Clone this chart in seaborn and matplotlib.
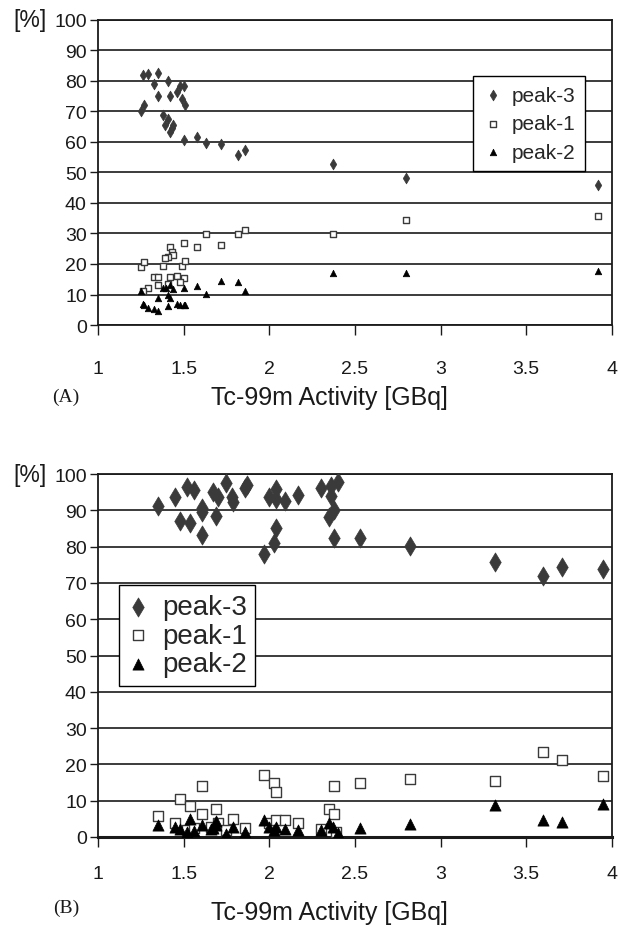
import matplotlib
matplotlib.use('Agg')
import matplotlib.pyplot as plt
import seaborn as sns
import pandas as pd

# panel A
a_p3_x = [1.26, 1.29, 1.35, 1.33, 1.41, 1.48, 1.50, 1.35, 1.42, 1.46, 1.49, 1.51, 1.25, 1.27, 1.38,
          1.41, 1.39, 1.44, 1.43, 1.42, 1.50, 1.58, 1.63, 1.72, 1.82, 1.86, 2.37, 2.80, 3.92]
a_p3_y = [81.8, 82.3, 82.5, 79.0, 80.0, 78.5, 78.2, 75.2, 75.2, 76.5, 74.2, 72.0, 70.0, 72.0, 68.9,
          67.5, 65.7, 65.5, 64.5, 63.3, 60.8, 61.5, 59.7, 59.2, 55.7, 57.5, 52.7, 48.2, 46.0]
a_p1_x = [1.25, 1.27, 1.63, 1.82, 1.86, 1.50, 1.58, 1.72, 1.42, 1.43, 1.44, 1.41, 1.39, 1.38, 1.49,
          1.51, 1.33, 1.35, 1.42, 1.46, 1.50, 1.48, 1.41, 1.35, 1.29, 1.26, 2.37, 2.80, 3.92]
a_p1_y = [19.0, 20.7, 29.8, 29.8, 31.3, 27.0, 25.5, 26.3, 25.7, 24.0, 22.8, 22.3, 21.9, 19.3, 19.2,
          20.9, 15.8, 15.8, 15.8, 16.2, 15.5, 14.2, 13.5, 13.0, 12.0, 11.3, 29.9, 34.5, 35.8]
a_p2_x = [1.25, 1.38, 1.40, 1.42, 1.44, 1.41, 1.42, 1.35, 1.50, 1.58, 1.63, 1.72, 1.82, 1.86, 1.26,
          1.27, 1.29, 1.33, 1.35, 1.41, 1.46, 1.48, 1.50, 1.51, 2.37, 2.80, 3.92]
a_p2_y = [11.2, 12.0, 12.2, 13.0, 11.7, 10.0, 8.7, 8.8, 12.0, 12.8, 10.2, 14.5, 14.1, 11.2, 7.0,
          6.7, 5.5, 5.3, 4.6, 6.3, 7.0, 6.7, 6.5, 6.7, 17.0, 17.0, 17.8]

# panel B
b_p3_x = [1.35, 1.45, 1.52, 1.56, 1.48, 1.54, 1.61, 1.61, 1.61, 1.67, 1.70, 1.69, 1.75, 1.78, 1.79,
          1.86, 1.87, 2.00, 2.04, 2.04, 2.09, 1.97, 2.03, 2.04, 2.17, 2.30, 2.36, 2.40, 2.36, 2.38,
          2.35, 2.38, 2.53, 2.82, 3.32, 3.60, 3.71, 3.95]
b_p3_y = [91.1, 93.6, 96.5, 95.5, 87.1, 86.5, 90.8, 89.5, 83.3, 95.1, 93.8, 88.6, 97.6, 93.8, 92.3,
          96.3, 97.0, 93.6, 95.8, 93.1, 92.6, 78.1, 81.1, 85.1, 94.3, 96.1, 96.8, 97.8, 94.1, 90.1,
          88.1, 82.5, 82.5, 80.3, 75.8, 71.8, 74.3, 73.8]
b_p1_x = [1.35, 1.45, 1.48, 1.54, 1.61, 1.61, 1.69, 1.70, 1.66, 1.52, 1.56, 1.75, 1.79, 1.86, 1.97,
          2.03, 2.04, 2.00, 2.04, 2.09, 2.17, 2.35, 2.38, 2.38, 2.53, 2.30, 2.39, 2.82, 3.32, 3.60,
          3.71, 3.95]
b_p1_y = [5.8, 3.8, 10.5, 8.5, 14.1, 6.3, 7.6, 3.8, 2.8, 1.8, 2.5, 1.8, 5.0, 2.5, 17.1,
          14.8, 12.3, 3.8, 4.6, 4.8, 3.8, 7.8, 6.3, 14.0, 14.8, 2.3, 1.3, 16.0, 15.3, 23.3,
          21.1, 16.8]
b_p2_x = [1.35, 1.45, 1.48, 1.52, 1.54, 1.56, 1.61, 1.66, 1.69, 1.69, 1.75, 1.79, 1.86, 1.97, 2.00,
          2.03, 2.04, 2.09, 2.17, 2.30, 2.35, 2.37, 2.40, 2.53, 1.67, 2.82, 3.32, 3.60, 3.71, 3.95]
b_p2_y = [3.3, 2.8, 2.3, 1.3, 5.0, 1.6, 3.3, 2.3, 3.3, 4.5, 0.8, 2.8, 1.3, 4.8, 2.8,
          1.8, 2.8, 2.3, 2.0, 1.8, 3.8, 2.8, 1.0, 2.6, 2.6, 3.6, 8.8, 4.8, 4.0, 9.1]

x_ticks = [1, 1.5, 2, 2.5, 3, 3.5, 4]
x_tick_labels = ['1', '1.5', '2', '2.5', '3', '3.5', '4']
y_ticks = list(range(0, 101, 10))

sns.set_style('white')
plt.rcParams['font.family'] = ['Liberation Sans', 'DejaVu Sans']

fig = plt.figure(figsize=(6.2, 9.28), dpi=100)
ax_a = fig.add_axes([0.158, 0.6487, 0.829, 0.3287])
ax_b = fig.add_axes([0.158, 0.097, 0.829, 0.391])


def draw_panel(ax, p3, p1, p2, sizes, tick_pad, label_pad, leg_kw, leg_style):
    s3, s1, s2 = sizes
    sns.scatterplot(x=p3[0], y=p3[1], ax=ax, marker='d', s=s3, color='#3a3a3a',
                    edgecolor='#3a3a3a', linewidth=0.5, label='peak-3', zorder=4)
    sns.scatterplot(x=p1[0], y=p1[1], ax=ax, marker='s', s=s1, facecolor='white',
                    edgecolor='#3a3a3a', linewidth=1.0, label='peak-1', zorder=4)
    sns.scatterplot(x=p2[0], y=p2[1], ax=ax, marker='^', s=s2, color='black',
                    edgecolor='black', linewidth=0.5, label='peak-2', zorder=5)
    ax.set_xlim(1, 4)
    ax.set_ylim(0, 100)
    ax.set_xticks(x_ticks)
    ax.set_xticklabels(x_tick_labels)
    ax.set_yticks(y_ticks)
    ax.grid(axis='y', color='#1a1a1a', linewidth=1.2)
    ax.grid(axis='x', visible=False)
    for sp in ax.spines.values():
        sp.set_visible(True)
        sp.set_color('#1a1a1a')
        sp.set_linewidth(1.3)
    ax.tick_params(axis='y', direction='out', length=6, width=1, left=True,
                   labelsize=14, pad=2, colors='#1a1a1a')
    ax.tick_params(axis='x', direction='out', length=7, width=1, bottom=True,
                   labelsize=14, pad=tick_pad, colors='#1a1a1a')
    ax.set_xlabel('Tc-99m Activity [GBq]', fontsize=18, labelpad=label_pad, color='#1a1a1a')
    ax.xaxis.label.set_x(0.45)
    ax.set_ylabel('')
    ax.text(-0.1, 1.0, '[%]', transform=ax.transAxes, ha='right', va='center',
            fontsize=16.5, color='#1a1a1a')
    leg = ax.legend(frameon=True, fancybox=False, framealpha=1, edgecolor='black',
                    borderaxespad=0, **leg_kw, **leg_style)
    leg.get_frame().set_linewidth(1.0)
    leg.set_zorder(10)


draw_panel(ax_a, (a_p3_x, a_p3_y), (a_p1_x, a_p1_y), (a_p2_x, a_p2_y), (30, 16, 22), 18, 6,
           dict(loc='center left', bbox_to_anchor=(0.73, 0.66)),
           dict(fontsize=15, labelspacing=0.45, handlelength=1.0, handletextpad=0.4,
                borderpad=0.45))
draw_panel(ax_b, (b_p3_x, b_p3_y), (b_p1_x, b_p1_y), (b_p2_x, b_p2_y), (95, 55, 65), 13, 13,
           dict(loc='center left', bbox_to_anchor=(0.041, 0.555)),
           dict(fontsize=20, labelspacing=0.1, handlelength=0.8, handletextpad=0.45,
                borderpad=0.3))
ax_b.spines['bottom'].set_linewidth(2.2)

serif = ['Liberation Serif', 'DejaVu Serif']
fig.text(66 / 620, 1 - 397 / 928, '(A)', ha='center', va='center', fontsize=14,
         family=serif, color='#1a1a1a')
fig.text(66 / 620, 1 - 908 / 928, '(B)', ha='center', va='center', fontsize=14,
         family=serif, color='#1a1a1a')

fig.savefig('out.png', dpi=100)
